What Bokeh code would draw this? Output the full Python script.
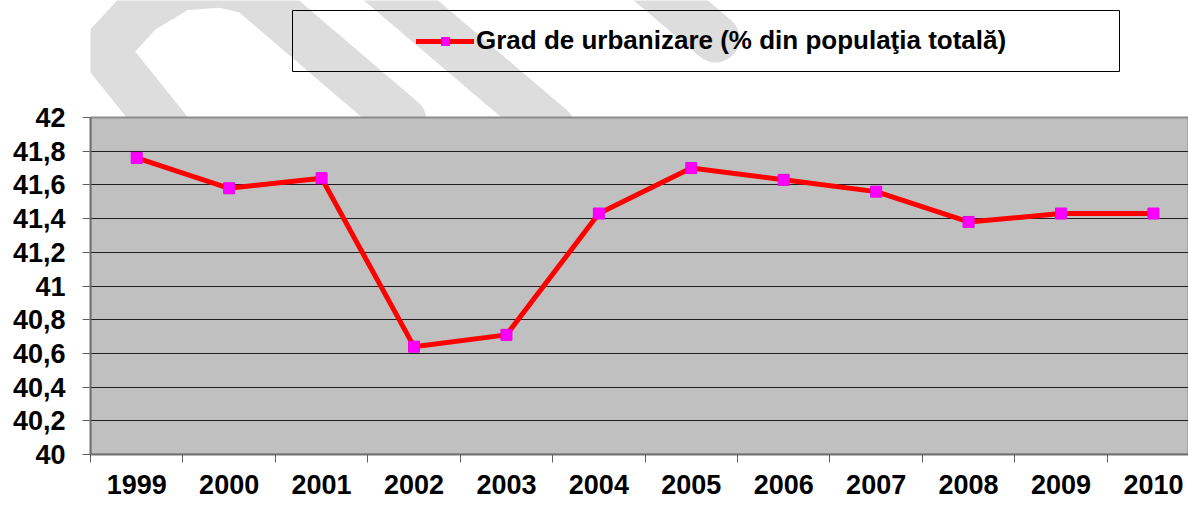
from bokeh.plotting import figure
from bokeh.models import (Range1d, FixedTicker, Legend, LegendItem,
                          BoxAnnotation, PolyAnnotation, ColumnDataSource)
from bokeh.embed import file_html
from bokeh.resources import INLINE

# ---------------- data ----------------
years = ["1999", "2000", "2001", "2002", "2003", "2004",
         "2005", "2006", "2007", "2008", "2009", "2010"]
values = [41.76, 41.58, 41.64, 40.64, 40.71, 41.43,
          41.70, 41.63, 41.56, 41.38, 41.43, 41.43]
y_ticks = [40.0, 40.2, 40.4, 40.6, 40.8, 41.0, 41.2, 41.4, 41.6, 41.8, 42.0]
y_tick_labels = ["40", "40,2", "40,4", "40,6", "40,8", "41",
                 "41,2", "41,4", "41,6", "41,8", "42"]
series_label = "Grad de urbanizare (% din popula\u0163ia total\u0103)"

# category centres on a numeric axis (boundaries at integers)
x_pos = [i + 0.5 for i in range(len(years))]
src = ColumnDataSource(dict(x=x_pos, y=values, year=years))

# ---------------- layout ----------------
W, H = 1188, 505
LEFT, BOTTOM_PX = 90, 454          # plot-area left / bottom in page pixels
TOP_PX = 117                        # plot-area top in page pixels
Y0, Y1 = 40.0, 42.0
PY_UNIT = (BOTTOM_PX - TOP_PX) / (Y1 - Y0)
PX_UNIT = 92.43
X_END = (W - LEFT) / PX_UNIT
Y_END = Y1 + TOP_PX / PY_UNIT       # frame reaches the top of the canvas

FONT = "Liberation Sans"

p = figure(width=W, height=H, output_backend="svg", toolbar_location=None,
           x_range=Range1d(0, X_END), y_range=Range1d(Y0, Y_END),
           min_border_left=LEFT, min_border_right=0,
           min_border_top=0, min_border_bottom=H - BOTTOM_PX,
           background_fill_color="white", border_fill_color="white")
p.outline_line_color = None

def dx(px):
    return (px - LEFT) / PX_UNIT
def dy(py):
    return Y0 + (BOTTOM_PX - py) / PY_UNIT

# ---- legend box fill ----
box_kw = dict(left=dx(292), right=dx(1119), bottom=dy(71), top=dy(10), level="image")
p.add_layout(BoxAnnotation(fill_color="white", fill_alpha=1, line_alpha=0, **box_kw))

# ---- faint watermark strokes ----
def stroke(path, width):
    pts = path + path[::-1][1:-1] if len(path) > 2 else path + path[:1]
    return PolyAnnotation(xs=[dx(a) for a, b in pts], ys=[dy(b) for a, b in pts],
                          fill_alpha=0, line_color="#DDDDDD", line_alpha=1,
                          line_width=width, line_join="round", level="image")

p.add_layout(stroke([(165, 127), (103, 50), (140, 10), (180, -14), (220, -17),
                     (250, -10), (402, 120)], 48))
p.add_layout(stroke([(330, -60), (551, 128)], 48))
p.add_layout(stroke([(600, -60), (715, 38)], 48))

# ---- legend box outline (drawn above the watermark) ----
p.add_layout(BoxAnnotation(fill_alpha=0, line_color="black", line_alpha=1,
                           line_width=1, **box_kw))

# plot area fill (covers the watermark inside the plot area)
p.add_layout(BoxAnnotation(bottom=Y0, top=Y1, fill_color="#C0C0C0", fill_alpha=1,
                           line_color="#8C8C8C", line_alpha=1, line_width=2,
                           level="image"))

# ---- axes ----
xa = p.xaxis[0]
xa.ticker = FixedTicker(ticks=x_pos, minor_ticks=list(range(len(years) + 1)))
xa.major_label_overrides = {x: y for x, y in zip(x_pos, years)}
xa.major_tick_out = 0
xa.major_tick_in = 0
xa.minor_tick_out = 8
xa.minor_tick_in = 0
xa.minor_tick_line_color = "#606060"
xa.minor_tick_line_width = 1
xa.axis_line_color = "#707070"
xa.axis_line_width = 2
xa.major_label_text_font = FONT
xa.major_label_text_font_style = "bold"
xa.major_label_text_font_size = "27px"
xa.major_label_text_color = "black"
xa.major_label_standoff = 12

ya = p.yaxis[0]
ya.bounds = (Y0, Y1)
ya.ticker = FixedTicker(ticks=y_ticks, minor_ticks=[])
ya.major_label_overrides = {t: l for t, l in zip(y_ticks, y_tick_labels)}
ya.major_tick_out = 8
ya.major_tick_in = 0
ya.major_tick_line_color = "#606060"
ya.minor_tick_line_color = None
ya.axis_line_color = "#707070"
ya.axis_line_width = 2
ya.major_label_text_font = FONT
ya.major_label_text_font_style = "bold"
ya.major_label_text_font_size = "27px"
ya.major_label_text_color = "black"
ya.major_label_standoff = 17

p.xgrid.visible = False
p.ygrid.ticker = FixedTicker(ticks=y_ticks[1:-1], minor_ticks=[])
p.ygrid.grid_line_color = "#1e1e1e"
p.ygrid.grid_line_width = 1

# ---- series ----
r_line = p.line("x", "y", source=src, line_color="#FF0000", line_width=5,
                line_join="round", line_cap="round")
r_pts = p.scatter("x", "y", source=src, marker="square", size=11,
                  fill_color="#FF00FF", line_color="#E800E8", line_width=1)

legend = Legend(items=[LegendItem(label=series_label, renderers=[r_line, r_pts])],
                location=(326, 398), orientation="vertical",
                glyph_width=58, glyph_height=20, label_standoff=2,
                padding=0, margin=0, spacing=0,
                border_line_alpha=0, background_fill_alpha=0,
                label_text_font=FONT, label_text_font_style="bold",
                label_text_font_size="26px", label_text_color="black")
p.add_layout(legend)

open("out.html", "w").write(file_html(p, INLINE))
